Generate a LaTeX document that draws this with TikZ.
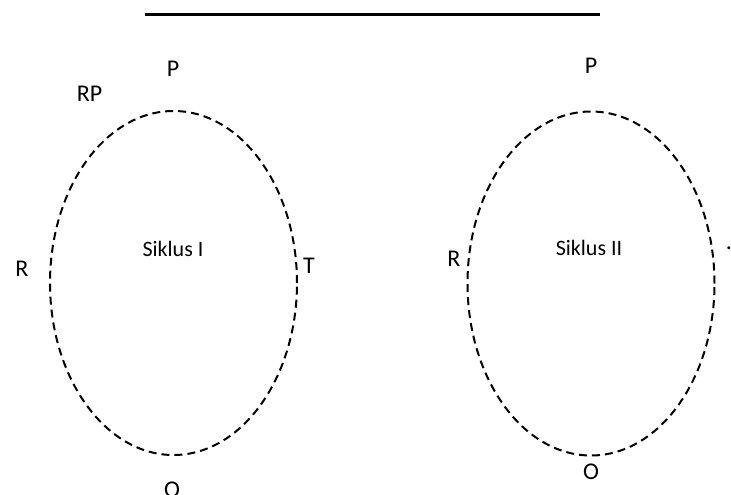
\documentclass[tikz,border=0pt]{standalone}
\usepackage{fontspec}
\setmainfont{Carlito}
\usetikzlibrary{shapes.geometric}

\begin{document}
\begin{tikzpicture}[x=1pt, y=-1pt, font=\fontsize{24}{26}\selectfont]
  \tikzstyle{cycle}=[draw, ellipse, dash pattern=on 8pt off 5pt, line width=2pt, inner sep=0pt, minimum width=247pt, minimum height=344pt]
  \tikzstyle{lbl}=[anchor=base, inner sep=0pt]
  \tikzstyle{title}=[lbl, font=\fontsize{22}{24}\selectfont]
  \useasboundingbox (0,0) rectangle (731,495);

  % ------- top rule -------
  \coordinate (ruleL) at (145,14.5);
  \coordinate (ruleR) at (600,14.5);
  \draw[line width=2.2pt] (ruleL) -- (ruleR);

  % ------- cycles -------
  \node[cycle] (cyc1) at (173.5,283) {};
  \node[cycle] (cyc2) at (591,283.5) {};

  % labels, cycle I
  \node[title] (siklus1) at (173,256) {Siklus I};
  \node[lbl] (p1)  at (173,77)  {P};
  \node[lbl] (rp1) at (89.5,102) {RP};
  \node[lbl] (r1)  at (22,276)  {R};
  \node[lbl] (t1)  at (309,273) {T};
  \node[lbl] (o1)  at (172,497) {O};

  % labels, cycle II
  \node[title] (siklus2) at (589,255) {Siklus II};
  \node[lbl] (p2)  at (591,74)  {P};
  \node[lbl] (r2)  at (454,266) {R};
  \node[lbl] (o2)  at (591,479) {O};
  \node[lbl] (dot) at (729,249) {.};
\end{tikzpicture}
\end{document}
